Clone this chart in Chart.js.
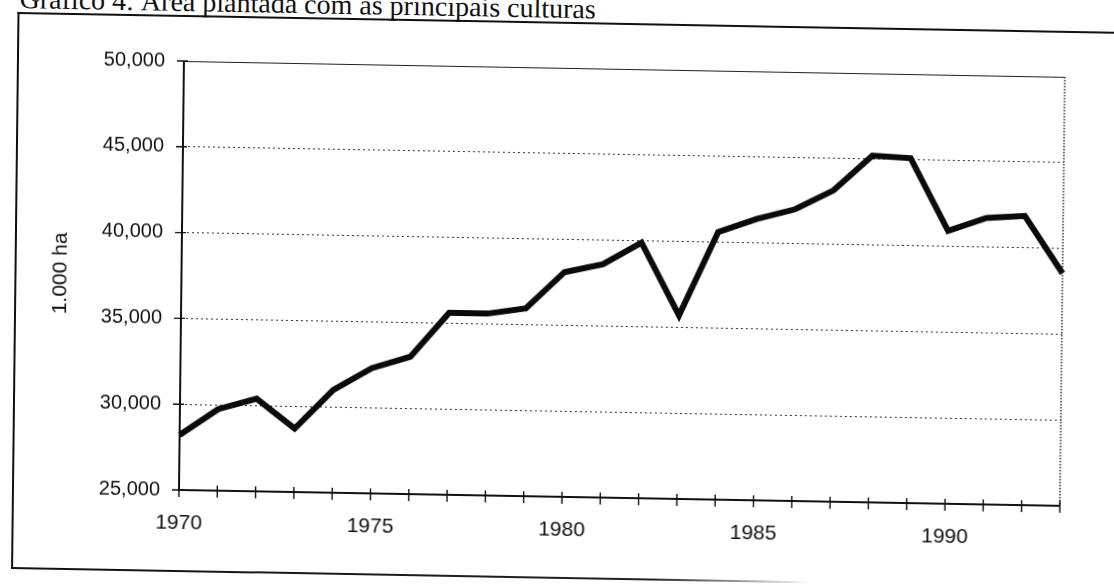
<!DOCTYPE html>
<html>
<head>
<meta charset="utf-8">
<script src="https://cdn.jsdelivr.net/npm/chart.js@4.4.1/dist/chart.umd.min.js"></script>
<style>
  html, body { margin: 0; padding: 0; background: #fff; overflow: hidden; width: 1114px; height: 585px; }
  #wrap { position: absolute; left: 0; top: 0; width: 1114px; height: 585px;
          transform-origin: 179px 490px; transform: matrix(1, 0.018, -0.0116, 1, 0, 0); }
  #title { position: absolute; left: 14px; top: -12px; font-family: 'Liberation Serif', 'Times New Roman', serif;
           font-size: 28px; line-height: 1; color: #111; white-space: nowrap; }
  #frameTop { position: absolute; left: 12px; top: 15px; width: 1140px; height: 2px; background: #111; }
  #frameLeft { position: absolute; left: 12px; top: 15px; width: 2px; height: 557px; background: #111; }
  #frameBottom { position: absolute; left: 12px; top: 570px; width: 800px; height: 2px;
                 background: linear-gradient(to right, #111 0%, #222 80%, rgba(80,80,80,0) 100%); }
  canvas { position: absolute; left: 0; top: 0; }
</style>
</head>
<body>
<div id="wrap">
  <div id="title">Gráfico 4: Área plantada com as principais culturas</div>
  <div id="frameTop"></div>
  <div id="frameLeft"></div>
  <div id="frameBottom"></div>
  <canvas id="c" width="1114" height="585"></canvas>
</div>
<script>
const years = ['1970','1971','1972','1973','1974','1975','1976','1977','1978','1979','1980','1981',
               '1982','1983','1984','1985','1986','1987','1988','1989','1990','1991','1992','1993'];
const area = [28200, 29750, 30400, 28700, 31000, 32300, 33000, 35600, 35600, 35950, 38100, 38600,
              39900, 35700, 40600, 41400, 42000, 43150, 45200, 45100, 40900, 41700, 41850, 38550];
const xLabelYears = ['1970', '1975', '1980', '1985', '1990'];
const yMin = 25000, yMax = 50000, yStep = 5000;
const yTitle = '1.000 ha';

const axesPlugin = {
  id: 'axesPlugin',
  afterDatasetsDraw(chart) {
    const { ctx, chartArea: a, scales: { x, y } } = chart;
    ctx.save();
    ctx.strokeStyle = '#222';
    ctx.lineWidth = 1.4;
    ctx.setLineDash([1.5, 1.5]);
    ctx.beginPath();
    ctx.moveTo(a.right, a.top);
    ctx.lineTo(a.right, a.bottom);
    ctx.stroke();
    ctx.setLineDash([]);
    ctx.strokeStyle = '#111';
    ctx.lineWidth = 2;
    ctx.beginPath();
    ctx.moveTo(a.left, a.top);
    ctx.lineTo(a.left, a.bottom);
    ctx.lineTo(a.right, a.bottom);
    ctx.stroke();
    ctx.lineWidth = 1.4;
    ctx.beginPath();
    y.ticks.forEach((t, i) => {
      const py = y.getPixelForTick(i);
      ctx.moveTo(a.left - 7, py);
      ctx.lineTo(a.left + 4, py);
    });
    x.ticks.forEach((t, i) => {
      const px = x.getPixelForTick(i);
      ctx.moveTo(px, a.bottom - 5);
      ctx.lineTo(px, a.bottom + 7);
    });
    ctx.stroke();
    ctx.restore();
  }
};

new Chart(document.getElementById('c'), {
  type: 'line',
  data: {
    labels: years,
    datasets: [{
      data: area,
      borderColor: '#0a0a0a',
      borderWidth: 6,
      pointRadius: 0,
      pointHoverRadius: 0,
      tension: 0,
      borderJoinStyle: 'miter',
      fill: false
    }]
  },
  options: {
    responsive: false,
    animation: false,
    devicePixelRatio: 1,
    events: [],
    layout: { padding: { left: 0, top: 61, right: 54, bottom: 0 } },
    plugins: { legend: { display: false }, tooltip: { enabled: false }, title: { display: false } },
    scales: {
      x: {
        type: 'category',
        offset: false,
        afterFit(s) { s.height = 95; },
        grid: { display: false, drawTicks: false },
        border: { display: false },
        ticks: {
          autoSkip: false,
          maxRotation: 0,
          minRotation: 0,
          padding: 21,
          color: '#111',
          font: { family: "'Liberation Sans', Arial, sans-serif", size: 21 },
          callback(v, i) { const l = this.getLabelForValue(v); return xLabelYears.includes(l) ? l : ''; }
        }
      },
      y: {
        min: yMin,
        max: yMax,
        afterFit(s) { s.width = 179; },
        grid: {
          drawTicks: false,
          lineWidth: 1,
          color: (c) => {
            if (!c.tick) return '#333';
            if (c.tick.value === yMin) return 'rgba(0,0,0,0)';
            if (c.tick.value === yMax) return '#222';
            return '#333';
          }
        },
        border: {
          display: false,
          dash: (c) => (c.tick && c.tick.value === yMax) ? [] : [2, 3]
        },
        ticks: {
          stepSize: yStep,
          padding: 19,
          color: '#111',
          font: { family: "'Liberation Sans', Arial, sans-serif", size: 20 },
          callback: (v) => v.toLocaleString('en-US')
        },
        title: {
          display: true,
          text: yTitle,
          color: '#111',
          padding: { top: 46, bottom: 0 },
          font: { family: "'Liberation Sans', Arial, sans-serif", size: 21 }
        }
      }
    }
  },
  plugins: [axesPlugin]
});
</script>
</body>
</html>
